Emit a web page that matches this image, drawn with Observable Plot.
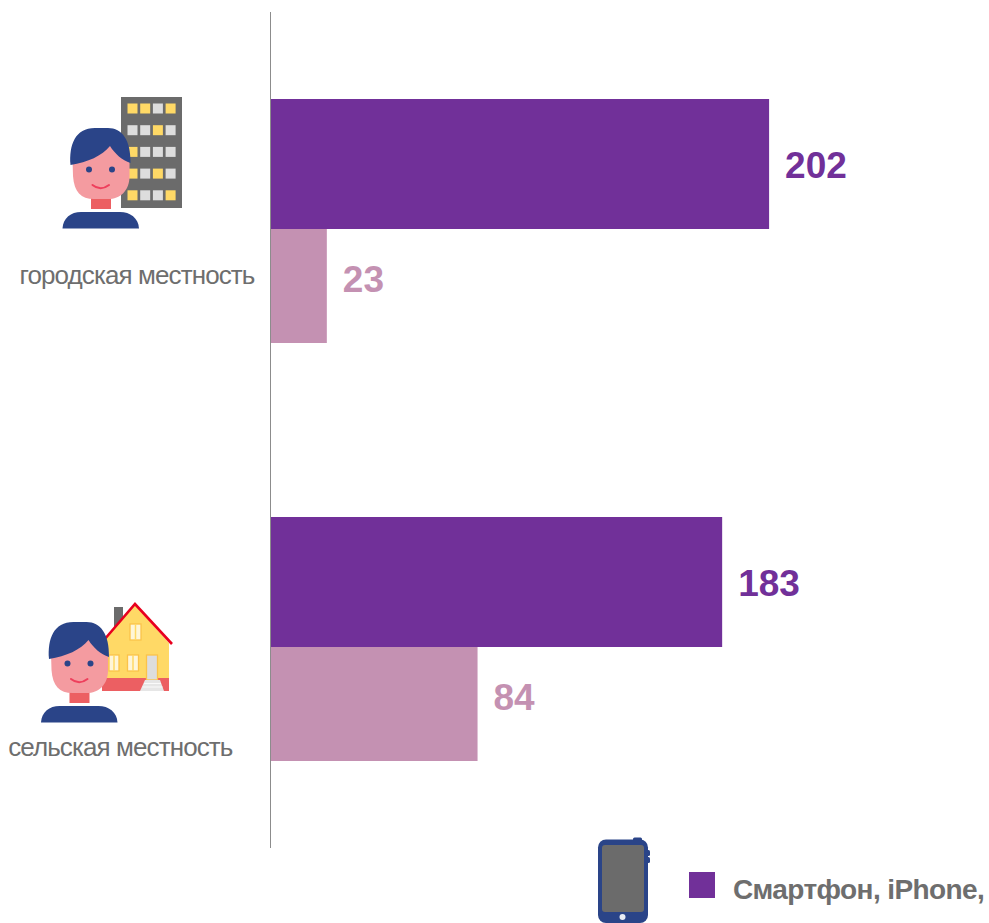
<!DOCTYPE html>
<html>
<head>
<meta charset="utf-8">
<script src="https://cdn.jsdelivr.net/npm/d3@7"></script>
<script src="https://cdn.jsdelivr.net/npm/@observablehq/plot@0.6"></script>
<style>
html,body{margin:0;padding:0;background:#fff}
svg{display:block}
</style>
</head>
<body>
<div id="chart"></div>
<script>
const categories = ["городская местность", "сельская местность"];
const smartphoneValues = [202, 183];
const otherValues = [23, 84];
const legendLabel = "Смартфон, iPhone,";

const purple = "#713099", pink = "#C491B2", gray = "#6e6e6e";
const navy = "#2A4488", skin = "#F49BA0", neckRed = "#EC5F62", yellow = "#FFD966", pale = "#DDDDDD", dark = "#6B6B6B";

const smartphone = categories.map((c, i) => ({category: c, value: smartphoneValues[i]}));
const other = categories.map((c, i) => ({category: c, value: otherValues[i]}));

const person = (dx, dy) => `<g transform="translate(${dx},${dy})">
  <rect x="91" y="196" width="20" height="13" fill="${neckRed}"/>
  <path d="M62.500 228.500C63 218 71 212 81 212H120C130 212 138.500 218 139 228.500Z" fill="${navy}"/>
  <path d="M72.500 160L110 142L129.500 158V176C129.500 191 120 199 108 199H94C81 199 74 192 73 176Z" fill="${skin}"/>
  <path d="M70.500 165C69 145 75 128 95 128H108C122 128 131 140 130.500 163C122 160 115 154 110 146C102 156 88 162 70.500 165Z" fill="${navy}"/>
  <circle cx="89" cy="169.500" r="3" fill="${navy}"/><circle cx="112" cy="169.500" r="3" fill="${navy}"/>
  <path d="M92.500 185Q100.500 191.500 109 185" fill="none" stroke="#EE3F5C" stroke-width="2" stroke-linecap="round"/>
</g>`;

const windowColors = [[1,1,0,1],[0,0,1,0],[1,0,0,0],[1,0,1,0],[1,0,0,1]];
const building = `<rect x="121" y="97" width="61" height="111" fill="${dark}"/>` +
  windowColors.map((row, r) => row.map((w, c) =>
    `<rect x="${127.500 + c * 12.700}" y="${103.500 + r * 21.700}" width="10" height="10" fill="${w ? yellow : pale}"/>`).join("")).join("");

const houseWindow = (x, y, w, h) => `<rect x="${x}" y="${y}" width="${w}" height="${h}" fill="#FFF6D8" stroke="#FBC34A" stroke-width="1.300"/><line x1="${x + w / 2}" y1="${y}" x2="${x + w / 2}" y2="${y + h}" stroke="${yellow}" stroke-width="1.500"/>`;
const house = `
  <rect x="114" y="607" width="9" height="24" fill="${dark}"/>
  <path d="M102 642L135 605L169 643V679H102Z" fill="${yellow}"/>
  <rect x="102" y="678" width="67" height="13" fill="${neckRed}"/>
  <path d="M104 640L135 604L172 644" fill="none" stroke="#E8001E" stroke-width="2.600"/>
  ${houseWindow(130, 624, 11, 16)}${houseWindow(109, 655, 10, 16)}${houseWindow(127.500, 655, 11, 16)}
  <rect x="146.500" y="655" width="11" height="25" fill="${pale}" stroke="#FBC34A" stroke-width="1.300"/>
  <path d="M145 680H160L164 691H140Z" fill="#E6E6E6"/>
  <path d="M144 683.500H161M142.500 687H162.500" stroke="#fff" stroke-width=".8"/>`;

const phone = `
  <rect x="633" y="837.500" width="9" height="4" rx="1.500" fill="${navy}"/>
  <rect x="645" y="850" width="5" height="6" rx="1.500" fill="${navy}"/>
  <rect x="645" y="857" width="5" height="6" rx="1.500" fill="${navy}"/>
  <rect x="598" y="839.500" width="50" height="83.500" rx="8" fill="${navy}"/>
  <rect x="602" y="845" width="42" height="67" rx="3" fill="${dark}"/>
  <circle cx="622.500" cy="917" r="3" fill="#E8ECF5"/>`;

const decorations = () => {
  const g = document.createElementNS("http://www.w3.org/2000/svg", "g");
  g.innerHTML = building + person(0, 0) + house + person(-21.500, 494) + phone +
    `<rect x="689" y="872" width="26" height="26" fill="${purple}"/>` +
    `<text x="733" y="899" text-anchor="start" font-family="Liberation Sans" font-weight="700" font-size="28" letter-spacing="-0.600" fill="${gray}">${legendLabel}</text>`;
  return g;
};

const valueFont = {fontFamily: "Liberation Sans", fontWeight: 700, fontSize: 37, textAnchor: "start", dx: 15.500, lineAnchor: "middle"};
const catFont = {fontFamily: "Liberation Sans", fontSize: 26, fill: gray, textAnchor: "end", frameAnchor: "left"};

const chart = Plot.plot({
  width: 989,
  height: 923,
  marginLeft: 270,
  marginRight: 0,
  marginTop: 12,
  marginBottom: 75,
  x: {domain: [0, 291], axis: null},
  y: {type: "band", domain: categories, padding: 0, axis: null},
  marks: [
    Plot.barX(smartphone, {x: "value", y: "category", fill: purple, insetTop: 87, insetBottom: 201}),
    Plot.barX(other, {x: "value", y: "category", fill: pink, insetTop: 217, insetBottom: 87}),
    Plot.ruleX([0], {stroke: "#8c8c8c", strokeWidth: 1}),
    Plot.text(smartphone, {...valueFont, x: "value", y: "category", text: "value", fill: purple, dy: -55}),
    Plot.text(other, {...valueFont, x: "value", y: "category", text: "value", fill: pink, dy: 59}),
    Plot.text([categories[0]], {...catFont, y: d => d, text: d => d, dx: -16, dy: 54}),
    Plot.text([categories[1]], {...catFont, y: d => d, text: d => d, dx: -38, dy: 108}),
    decorations
  ]
});
chart.querySelectorAll("text").forEach(t => { if (t.textContent.includes("местность")) t.setAttribute("letter-spacing", "-0.900"); });
document.getElementById("chart").append(chart);
</script>
</body>
</html>
